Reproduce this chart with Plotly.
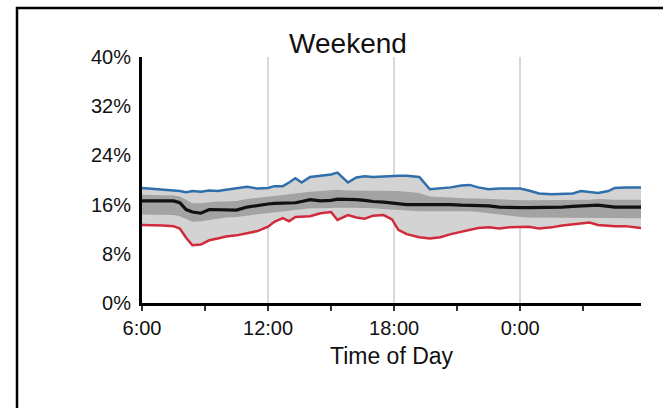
import plotly.graph_objects as go

# Time of day in hours (6 = 6:00, 24 = 0:00, 29.75 = 5:45 next day)
hours = [6.0, 6.5, 7.0, 7.5, 7.8, 8.1, 8.4, 8.8, 9.2, 9.6, 10.0, 10.5, 11.0, 11.5,
         12.0, 12.3, 12.7, 13.0, 13.3, 13.6, 14.0, 14.5, 15.0, 15.3, 15.8, 16.2,
         16.6, 17.0, 17.5, 17.9, 18.2, 18.6, 19.2, 19.7, 20.2, 20.7, 21.2, 21.6,
         22.0, 22.5, 23.0, 23.5, 24.0, 24.4, 24.9, 25.5, 26.0, 26.5, 26.9, 27.3,
         27.7, 28.2, 28.5, 29.0, 29.75]

upper = [18.7, 18.6, 18.5, 18.3, 18.2, 18.0, 18.2, 18.1, 18.3, 18.2, 18.4, 18.7, 18.9, 18.6,
         18.7, 19.0, 19.0, 19.6, 20.3, 19.6, 20.5, 20.7, 20.9, 21.2, 19.6, 20.4,
         20.6, 20.5, 20.6, 20.6, 20.7, 20.7, 20.5, 18.5, 18.6, 18.8, 19.1, 19.2,
         18.8, 18.5, 18.6, 18.6, 18.6, 18.3, 17.8, 17.7, 17.8, 17.8, 18.2, 18.0,
         17.9, 18.2, 18.7, 18.8, 18.8]

median = [16.6, 16.6, 16.6, 16.6, 16.3, 15.2, 14.8, 14.6, 15.2, 15.2, 15.1, 15.1, 15.6, 15.9,
          16.1, 16.2, 16.2, 16.3, 16.3, 16.5, 16.8, 16.6, 16.7, 16.9, 16.9, 16.8,
          16.7, 16.5, 16.4, 16.3, 16.1, 16.0, 16.0, 16.0, 16.1, 16.0, 15.9, 15.9,
          15.9, 15.8, 15.6, 15.5, 15.5, 15.5, 15.5, 15.6, 15.6, 15.7, 15.8, 15.8,
          15.9, 15.7, 15.6, 15.6, 15.6]

lower = [12.7, 12.7, 12.6, 12.5, 12.1, 10.6, 9.4, 9.5, 10.2, 10.5, 10.8, 11.0, 11.4, 11.7,
         12.4, 13.2, 13.8, 13.3, 14.0, 14.0, 14.1, 14.6, 14.8, 13.5, 14.3, 13.9,
         13.7, 14.2, 14.3, 13.6, 11.9, 11.2, 10.7, 10.5, 10.7, 11.2, 11.6, 12.0,
         12.2, 12.3, 12.1, 12.3, 12.4, 12.4, 12.1, 12.3, 12.6, 12.8, 13.0, 13.1,
         12.7, 12.5, 12.5, 12.5, 12.2]

q75 = [17.6, 17.6, 17.6, 17.5, 17.3, 16.7, 16.2, 16.2, 16.4, 16.5, 16.5, 16.6, 16.9, 17.1,
       17.3, 17.5, 17.6, 17.8, 17.9, 18.0, 18.1, 18.2, 18.3, 18.4, 18.3, 18.3,
       18.3, 18.3, 18.2, 18.2, 18.2, 18.1, 17.9, 17.3, 17.2, 17.1, 17.1, 17.0,
       17.0, 16.9, 16.8, 16.7, 16.7, 16.7, 16.7, 16.7, 16.7, 16.8, 16.8, 16.8,
       16.9, 16.8, 16.8, 16.8, 16.8]

q25 = [14.4, 14.4, 14.4, 14.3, 14.1, 13.6, 13.2, 13.3, 13.5, 13.7, 13.9, 14.0, 14.2, 14.4,
       14.6, 14.8, 15.0, 15.1, 15.2, 15.3, 15.4, 15.4, 15.5, 15.5, 15.5, 15.5,
       15.4, 15.4, 15.3, 15.2, 15.1, 15.0, 14.9, 14.9, 14.9, 15.0, 15.0, 14.9,
       14.8, 14.6, 14.3, 14.1, 14.0, 13.9, 13.9, 13.9, 13.9, 13.9, 13.8, 13.8,
       13.8, 13.8, 13.8, 13.8, 13.8]

major_ticks = [6, 12, 18, 24]
major_labels = ["6:00", "12:00", "18:00", "0:00"]
y_ticks = [0, 8, 16, 24, 32, 40]
y_labels = ["0%", "8%", "16%", "24%", "32%", "40%"]

FONT = "Liberation Sans, Arial, sans-serif"
W, H = 663, 408
L, R, T, B = 142, 22, 57, 105

fig = go.Figure()
# light band between lower and upper
fig.add_trace(go.Scatter(x=hours, y=lower, mode="lines", line=dict(width=0),
                         showlegend=False, hoverinfo="skip"))
fig.add_trace(go.Scatter(x=hours, y=upper, mode="lines", line=dict(width=0),
                         fill="tonexty", fillcolor="#d3d3d3", showlegend=False, hoverinfo="skip"))
# dark band (interquartile)
fig.add_trace(go.Scatter(x=hours, y=q25, mode="lines", line=dict(width=0),
                         showlegend=False, hoverinfo="skip"))
fig.add_trace(go.Scatter(x=hours, y=q75, mode="lines", line=dict(width=0),
                         fill="tonexty", fillcolor="#a3a3a3", showlegend=False, hoverinfo="skip"))
# lines
fig.add_trace(go.Scatter(x=hours, y=upper, mode="lines",
                         line=dict(color="#2f6fab", width=2.5), showlegend=False))
fig.add_trace(go.Scatter(x=hours, y=lower, mode="lines",
                         line=dict(color="#d02a3c", width=2.5), showlegend=False))
fig.add_trace(go.Scatter(x=hours, y=median, mode="lines",
                         line=dict(color="#111111", width=3.2), showlegend=False))

pw = W - L - R
ph = H - T - B
# outer frame (only top and left edges fall inside the picture)
fig.add_shape(type="rect", xref="paper", yref="paper",
              x0=(17 - L) / pw, x1=(W + 20 - L) / pw,
              y0=(H - B - (H + 20)) / ph, y1=(H - B - 8) / ph,
              line=dict(color="black", width=2.5), fillcolor="rgba(0,0,0,0)", layer="below")

fig.update_layout(
    width=W, height=H,
    margin=dict(l=L, r=R, t=T, b=B),
    paper_bgcolor="white", plot_bgcolor="white",
    font=dict(family=FONT, color="#111111", size=20),
    title=dict(text="Weekend", font=dict(size=28, family=FONT, color="#111111"),
               x=348 / W, xref="container", xanchor="center",
               y=1 - 43 / H, yref="container", yanchor="middle"),
    xaxis=dict(range=[6, 29.75], tickmode="array", tickvals=major_ticks, ticktext=major_labels,
               showgrid=True, gridcolor="#d9d9d9", gridwidth=2,
               showline=True, linecolor="black", linewidth=3,
               ticks="outside", ticklen=5, tickwidth=2, tickcolor="#333333",
               minor=dict(dtick=3, tick0=0, ticks="outside", ticklen=5, tickwidth=2,
                          tickcolor="#333333", showgrid=False),
               zeroline=False, ticklabelstandoff=0,
               title=dict(text="Time of Day", font=dict(size=23, family=FONT), standoff=10)),
    yaxis=dict(range=[0, 40], tickmode="array", tickvals=y_ticks, ticktext=y_labels,
               showgrid=False, showline=True, linecolor="black", linewidth=3,
               ticks="", zeroline=False, ticklabelstandoff=4),
)

fig.write_html("out.html", config={"displayModeBar": False})

# remove default page margins so the figure sits at the window origin
with open("out.html", "r", encoding="utf-8") as f:
    html = f.read()
html = html.replace("<head>", "<head><style>html,body{margin:0;padding:0;overflow:hidden;}</style>", 1)
with open("out.html", "w", encoding="utf-8") as f:
    f.write(html)
